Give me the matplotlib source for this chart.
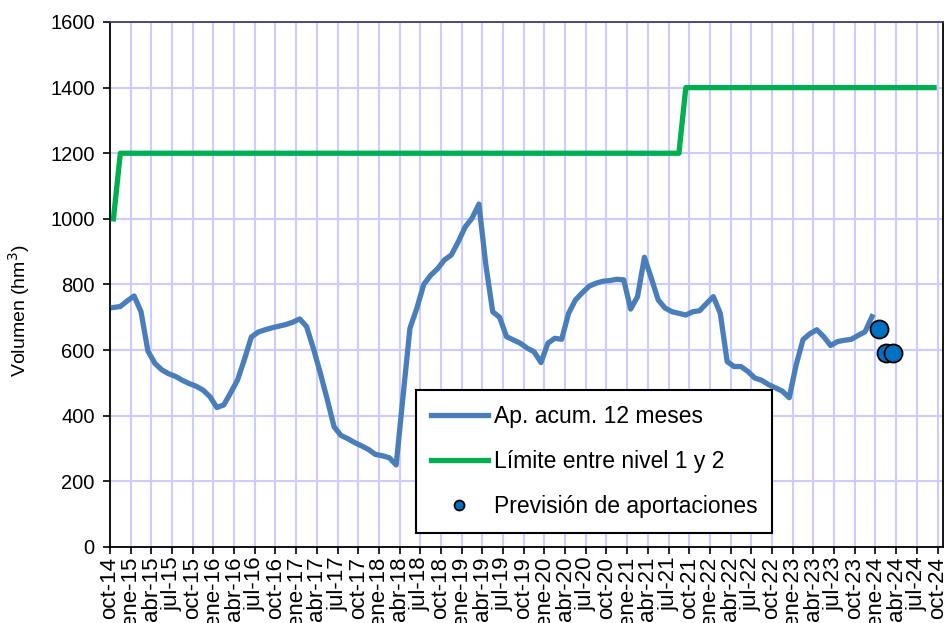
import matplotlib.pyplot as plt
import numpy as np

plt.rcParams['font.family'] = ['Liberation Sans', 'DejaVu Sans']

# monthly values, index 0 = oct-14
ap_acum = [730, 733, 750, 765, 717, 597, 560, 540, 528, 520, 508, 498,
           490, 478, 458, 425, 433, 470, 509, 572, 640, 655, 662, 668,
           673, 678, 685, 695, 672, 605, 530, 450, 366, 340, 330, 318,
           308, 297, 282, 278, 272, 250, 460, 667, 728, 800, 828, 848,
           875, 890, 930, 975, 1002, 1045, 860, 717, 700, 641, 631, 621,
           606, 595, 562, 621, 636, 633, 712, 753, 775, 795, 804, 810,
           812, 816, 814, 725, 763, 883, 819, 753, 728, 717, 712, 707,
           717, 720, 742, 763, 712, 565, 550, 550, 535, 515, 508, 495,
           485, 475, 455, 555, 632, 650, 662, 641, 614, 626, 630, 633,
           645, 656, 702]
limite = [1000] + [1200] * 82 + [1400] * 37
prev_mes = [111, 112, 113]
prev_val = [665, 590, 590]

meses = ['oct', 'ene', 'abr', 'jul']
tick_labels = []
for k in range(41):
    year = 14 + (k + 3) // 4
    tick_labels.append('%s-%d' % (meses[k % 4], year))

x_ap = np.arange(len(ap_acum)) + 0.5
x_lim = np.arange(len(limite)) + 0.5
x_prev = np.array(prev_mes) + 0.5

fig = plt.figure(figsize=(9.49, 6.23), dpi=100)
ax = fig.add_axes([0.1159, 0.122, 0.8778, 0.8427])

ax.plot(x_ap, ap_acum, color='#4A7EBB', lw=3.8, label='Ap. acum. 12 meses',
        solid_joinstyle='round', zorder=3)
ax.plot(x_lim, limite, color='#00B050', lw=3.8, label='Límite entre nivel 1 y 2',
        solid_joinstyle='round', zorder=3)
ax.plot(x_prev, prev_val, 'o', color='#0070C0', markeredgecolor='black',
        markeredgewidth=1.3, markersize=13, label='Previsión de aportaciones', zorder=4)

ax.set_xlim(0, 120.8)
ax.set_ylim(0, 1600)
ax.set_yticks(np.arange(0, 1601, 200))
ax.set_xticks(np.arange(0, 121, 3))
ax.set_xticklabels(tick_labels, rotation=90)
ax.tick_params(axis='both', direction='out', length=5, width=1.2)
ax.tick_params(axis='y', labelsize=14.5, pad=6)
ax.tick_params(axis='x', labelsize=16, pad=2)
ax.set_ylabel('Volumen (hm$^3$)', fontsize=14)
ax.yaxis.set_label_coords(-0.094, 0.45)

ax.grid(True, color='#CCCCFF', lw=1.5)
ax.set_axisbelow(True)
for side in ['left', 'bottom', 'right']:
    ax.spines[side].set_color('black')
    ax.spines[side].set_linewidth(1.3)
ax.spines['top'].set_color('#404070')
ax.spines['top'].set_linewidth(1.3)

leg = ax.legend(loc='lower left', bbox_to_anchor=(0.367, 0.027), borderaxespad=0,
                fontsize=16.5, fancybox=False, framealpha=1, edgecolor='black',
                markerscale=0.55, handlelength=2.5, handletextpad=0.25,
                labelspacing=0.95, borderpad=0.65)
leg.get_frame().set_linewidth(1.5)

plt.savefig('out.png', dpi=100)
